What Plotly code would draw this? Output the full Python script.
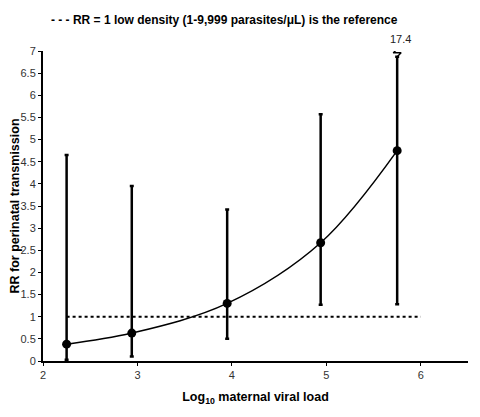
import plotly.graph_objects as go

log_vl = [2.25, 2.94, 3.95, 4.94, 5.75]
rr = [0.38, 0.63, 1.30, 2.67, 4.75]
ci_low = [0.03, 0.10, 0.50, 1.27, 1.28]
ci_high = [4.65, 3.95, 3.42, 5.57, 6.87]
ref_x = [2.25, 6.0]
ref_y = [1, 1]
top_label = "17.4"
y_ticks = [0, 0.5, 1, 1.5, 2, 2.5, 3, 3.5, 4, 4.5, 5, 5.5, 6, 6.5, 7]
y_tick_text = ["0", "0.5", "1", "1.5", "2", "2.5", "3", "3.5", "4", "4.5", "5", "5.5", "6", "6.5", "7"]
x_ticks = [2, 3, 4, 5, 6]

X_RANGE = [2, 6.5]
Y_RANGE = [0, 7]
# page body has an 8px margin, so the figure is slightly smaller than the window
W, H = 472, 409
M = dict(l=35, r=12, t=43, b=56)
px_x = (X_RANGE[1] - X_RANGE[0]) / (W - M["l"] - M["r"])
px_y = (Y_RANGE[1] - Y_RANGE[0]) / (H - M["t"] - M["b"])

fig = go.Figure()

fig.add_trace(go.Scatter(
    x=ref_x, y=ref_y, mode="lines",
    line=dict(color="black", width=2, dash="dot"),
    hoverinfo="skip", showlegend=False))

fig.add_trace(go.Scatter(
    x=log_vl, y=rr, mode="lines",
    line=dict(color="black", width=1.5, shape="spline", smoothing=1.0),
    showlegend=False))

fig.add_trace(go.Scatter(
    x=log_vl, y=rr, mode="markers",
    marker=dict(color="black", size=9),
    error_y=dict(type="data", symmetric=False,
                 array=[h - v for h, v in zip(ci_high, rr)],
                 arrayminus=[v - l for v, l in zip(rr, ci_low)],
                 color="black", thickness=2.5, width=2),
    cliponaxis=False, showlegend=False))

# axis-break zigzag at top of the last error bar (pixel offsets, y up)
bx, by = log_vl[-1], ci_high[-1]
zig = [(0, 0), (4, 4), (-4, 4), (2, 9)]
fig.add_trace(go.Scatter(
    x=[bx + dx * px_x for dx, dy in zig], y=[by + dy * px_y for dx, dy in zig],
    mode="lines", line=dict(color="black", width=1.3),
    cliponaxis=False, hoverinfo="skip", showlegend=False))

fig.add_annotation(x=bx, y=by, text=top_label, showarrow=False,
                   yanchor="middle", yshift=18, xshift=3,
                   font=dict(size=11, color="#222"))

fig.update_layout(
    width=W, height=H,
    margin=M,
    paper_bgcolor="white", plot_bgcolor="white",
    font=dict(family="Liberation Sans, Arial, sans-serif", color="black"),
    title=dict(text="<b>- - - RR = 1 low density (1-9,999 parasites/μL) is the reference</b>",
               x=0.458, xanchor="center", y=0.971, yanchor="middle",
               font=dict(size=12, color="black")),
    xaxis=dict(range=X_RANGE, tickvals=x_ticks, showgrid=False, zeroline=False,
               automargin=False,
               showline=True, linecolor="black", linewidth=2,
               ticks="outside", ticklen=3, tickwidth=1, tickcolor="black",
               tickfont=dict(size=11, color="#333"),
               title=dict(text="<b>Log<sub>10</sub> maternal viral load</b>",
                          font=dict(size=12.5), standoff=12)),
    yaxis=dict(range=Y_RANGE, tickvals=y_ticks, ticktext=y_tick_text, showgrid=False,
               automargin=False,
               zeroline=False, showline=True, linecolor="black", linewidth=2,
               ticks="outside", ticklen=3, tickwidth=1, tickcolor="black",
               tickfont=dict(size=11, color="#333"),
               title=dict(text="<b>RR for perinatal transmission</b>",
                          font=dict(size=12.5), standoff=6)),
)

fig.write_html("out.html")
